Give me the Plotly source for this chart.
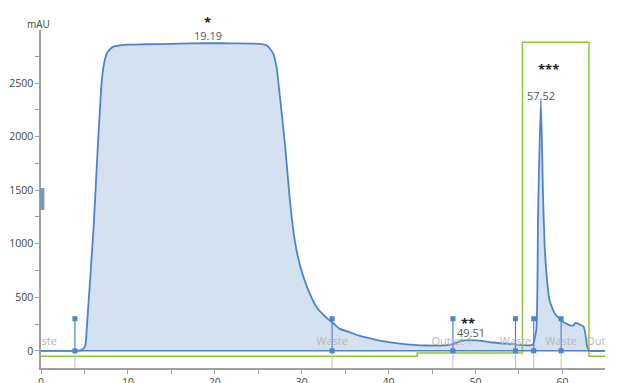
import plotly.graph_objects as go

# Chromatogram (UV, mAU) vs time (min)
time_min = [0, 4.0, 4.5, 4.8, 5.1, 5.3, 6.05, 6.5, 7.0, 7.3, 7.6, 8.0, 8.35, 9.9, 12, 15, 19.19, 22, 25.2,
            26.0, 26.7, 27.1, 27.5, 28.1, 28.6, 29.2, 29.8, 30.6, 31.7, 32.9, 33.6, 34.4, 35.5, 36.7, 37.4,
            39.3, 41.3, 44.3, 46.6, 47.5, 48.2, 49.51, 50.5, 52, 54.3, 56.2, 56.6, 57.0, 57.2, 57.52, 57.77,
            57.96, 58.2, 58.5, 59.1, 60.0, 61.0, 61.3, 61.5, 61.8, 62.0, 62.4, 62.6, 62.8, 63.0, 63.2, 64.9]
uv_mau = [0, 0, 5, 15, 50, 250, 1150, 1850, 2530, 2700, 2780, 2820, 2840, 2858, 2862, 2866, 2872, 2870, 2866,
          2850, 2780, 2650, 2370, 1905, 1440, 1030, 800, 600, 410, 305, 260, 205, 175, 140, 125,
          90, 68, 50, 52, 65, 90, 100, 95, 78, 62, 52, 60, 200, 1285, 2340, 1440,
          970, 690, 475, 350, 275, 235, 240, 262, 255, 245, 230, 180, 60, 10, 0, 0]

# Concentration / outlet trace (green)
green_t = [0, 43.3, 55.4, 63.05, 64.9]
green_v = [-50, -20, 2880, -50, -50]

# Fraction marks
frac_t = [3.9, 33.5, 47.4, 54.6, 56.7, 59.85]
frac_top = 300

# Fraction labels
label_t = [0, 33.5, 47.3, 54.6, 59.85, 65.1]
label_txt = ["Waste", "Waste", "Outlet 1", "Waste", "Waste", "Outlet 2"]

# Peak annotations
peak_t = [19.19, 49.51, 57.52]
peak_lbl = ["19.19", "49.51", "57.52"]
peak_star = ["*", "**", "***"]

BLUE = "#4f83cc"
FILL = "rgba(170,195,228,0.5)"
GREEN = "#8cc63f"
AX = "#a0a0a0"

fig = go.Figure()

fig.add_trace(go.Scatter(x=time_min, y=uv_mau, mode="lines",
                         line=dict(color=BLUE, width=1.8, shape="spline", smoothing=0.5),
                         fill="tozeroy", fillcolor=FILL, hoverinfo="skip"))
fig.add_trace(go.Scatter(x=green_t, y=green_v, mode="lines", line=dict(color=GREEN, width=1.5, shape="hv"),
                         hoverinfo="skip"))
fig.add_trace(go.Scatter(x=[0, 64.9], y=[0, 0], mode="lines", line=dict(color=BLUE, width=1.5),
                         hoverinfo="skip"))

gx, gy, bx, by = [], [], [], []
for t in frac_t:
    gx += [t, t, None]
    gy += [0, -200, None]
    bx += [t, t, None]
    by += [0, frac_top, None]
fig.add_trace(go.Scatter(x=gx, y=gy, mode="lines", line=dict(color="#c0c0c0", width=1), hoverinfo="skip"))
fig.add_trace(go.Scatter(x=bx, y=by, mode="lines", line=dict(color=BLUE, width=1.2), hoverinfo="skip"))
mx = frac_t + frac_t
my = [0] * len(frac_t) + [frac_top] * len(frac_t)
fig.add_trace(go.Scatter(x=mx, y=my, mode="markers", marker=dict(color=BLUE, size=5, symbol="square"),
                         hoverinfo="skip"))

fig.add_trace(go.Scatter(x=label_t, y=[85] * len(label_t), mode="text", text=label_txt,
                         textfont=dict(color="#b8b8b8", size=11), cliponaxis=True, hoverinfo="skip"))

# star / label vertical positions in paper units (relative to plot area)
star_y = [1.024, 0.133, 0.885]
lbl_y = [0.985, 0.104, 0.805]
star_dx = [0, -0.35, 0.9]
for t, s, l, sy, ly, dx in zip(peak_t, peak_star, peak_lbl, star_y, lbl_y, star_dx):
    fig.add_annotation(x=t + dx, xref="x", y=sy, yref="paper", text="<b>" + s + "</b>", showarrow=False,
                       font=dict(size=13, color="#222"), yanchor="middle")
    fig.add_annotation(x=t, xref="x", y=ly, yref="paper", text=l, showarrow=False,
                       font=dict(size=11, color="#555"), yanchor="middle")

fig.add_annotation(xref="paper", yref="paper", x=-0.029, y=1.044, text="mAU", showarrow=False,
                   font=dict(size=10, color="#444"))
fig.add_annotation(xref="paper", yref="paper", x=1.025, y=-0.03, text="min", showarrow=False,
                   xanchor="left", font=dict(size=11, color="#444"))

fig.add_shape(type="rect", xref="paper", yref="y", x0=-0.002, x1=0.006, y0=1315, y1=1520,
              fillcolor="#7f98b8", line=dict(width=0), layer="above")

# page body has an 8px margin: plot area in page px = left 41, right 605, top 30, bottom 368
fig.update_layout(
    width=627, height=383,
    margin=dict(l=33, r=30, t=22, b=23),
    plot_bgcolor="white", paper_bgcolor="white",
    showlegend=False,
    font=dict(family="Open Sans", size=10.5, color="#444"),
    xaxis=dict(range=[0, 64.9], showline=True, linecolor=AX, linewidth=1.5, ticks="outside", ticklen=4,
               tickcolor=AX, dtick=10, tick0=0, showgrid=False, zeroline=False, automargin=False,
               minor=dict(dtick=5, ticks="outside", ticklen=4, tickcolor=AX, showgrid=False)),
    yaxis=dict(range=[-160, 2995], showline=True, linecolor=AX, linewidth=1.5, ticks="outside", ticklen=4,
               tickcolor=AX, dtick=500, tick0=0, showgrid=False, zeroline=False, automargin=False,
               minor=dict(dtick=250, ticks="outside", ticklen=4, tickcolor=AX, showgrid=False)),
)

fig.write_html("out.html")
